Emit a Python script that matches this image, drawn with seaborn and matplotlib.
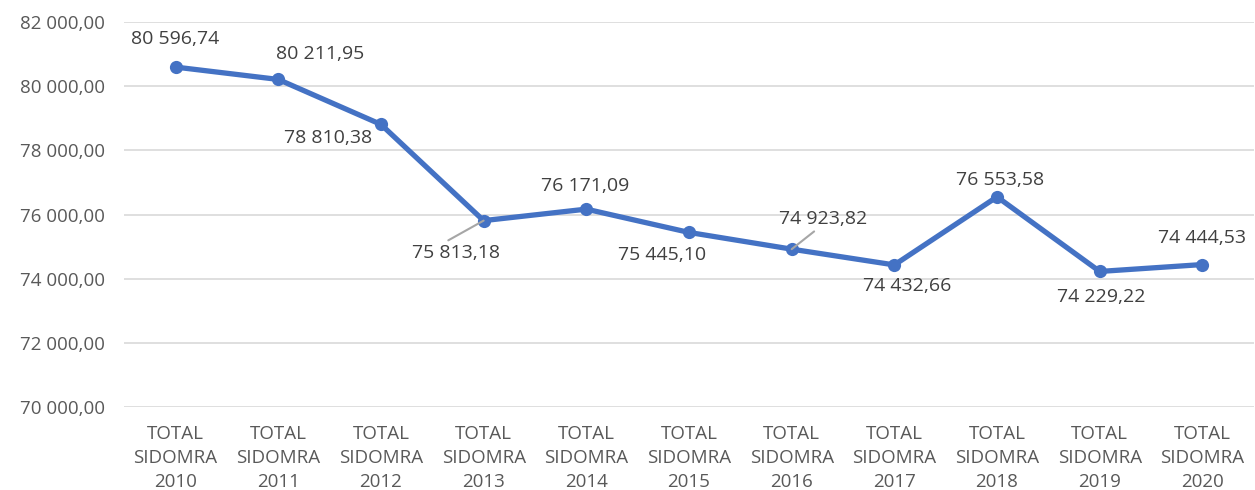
import matplotlib

matplotlib.use("Agg")
import matplotlib.pyplot as plt
import seaborn as sns
import pandas as pd
from matplotlib.ticker import FuncFormatter

sns.set_style("white")
plt.rcParams["font.family"] = ["Open Sans", "DejaVu Sans"]

# ── Data ─────────────────────────────────────────
years = ["2010", "2011", "2012", "2013", "2014", "2015",
         "2016", "2017", "2018", "2019", "2020"]
values = [80596.74, 80211.95, 78810.38, 75813.18, 76171.09, 75445.10,
          74923.82, 74432.66, 76553.58, 74229.22, 74444.53]
categories = [f"TOTAL\nSIDOMRA\n{y}" for y in years]

# label offsets in pixels (dx, dy) relative to each point
offsets = [(0, 28), (42, 25), (-53, -14), (-28, -32), (-1, 23), (-27, -23),
           (31, 30), (13, -21), (3, 17), (2, -26), (0, 27)]
# leader line anchor on the label box for the labels that have one
leaders = {3: (0.35, 1.0), 6: (0.45, 0.0)}

df = pd.DataFrame({"cat": categories, "value": values})


def fmt(v):
    s = f"{v:,.2f}"
    return s.replace(",", " ").replace(".", ",")


fig = plt.figure(figsize=(12.55, 4.9), dpi=100)
ax = fig.add_axes([0.099, 0.169, 0.9, 0.786])

sns.lineplot(data=df, x="cat", y="value", ax=ax, color="#4472C4",
             linewidth=3.8, marker="o", markersize=9.5, markeredgewidth=0,
             sort=False)

ax.set_ylim(70000, 82000)
ax.set_yticks(range(70000, 82001, 2000))
ax.yaxis.set_major_formatter(FuncFormatter(lambda v, p: fmt(v)))
ax.set_xlim(-0.5, len(categories) - 0.5)
ax.grid(axis="y", color="#d9d9d9", linewidth=1.2)
ax.set_axisbelow(True)
for side in ["top", "right", "left", "bottom"]:
    ax.spines[side].set_visible(False)
ax.set_xlabel("")
ax.set_ylabel("")
ax.tick_params(axis="both", length=0, labelsize=13.5, colors="#595959", pad=14)
ax.tick_params(axis="x", pad=13)
for lab in ax.get_xticklabels():
    lab.set_linespacing(1.42)

for i, (v, (dx, dy)) in enumerate(zip(values, offsets)):
    props = None
    if i in leaders:
        props = dict(arrowstyle="-", color="#a6a6a6", linewidth=1.5,
                     shrinkA=0, shrinkB=0, relpos=leaders[i])
    ax.annotate(fmt(v), xy=(i, v), xytext=(dx, dy),
                textcoords="offset pixels", ha="center", va="center",
                fontsize=14, color="#404040", arrowprops=props)

fig.savefig("out.png", dpi=100)
